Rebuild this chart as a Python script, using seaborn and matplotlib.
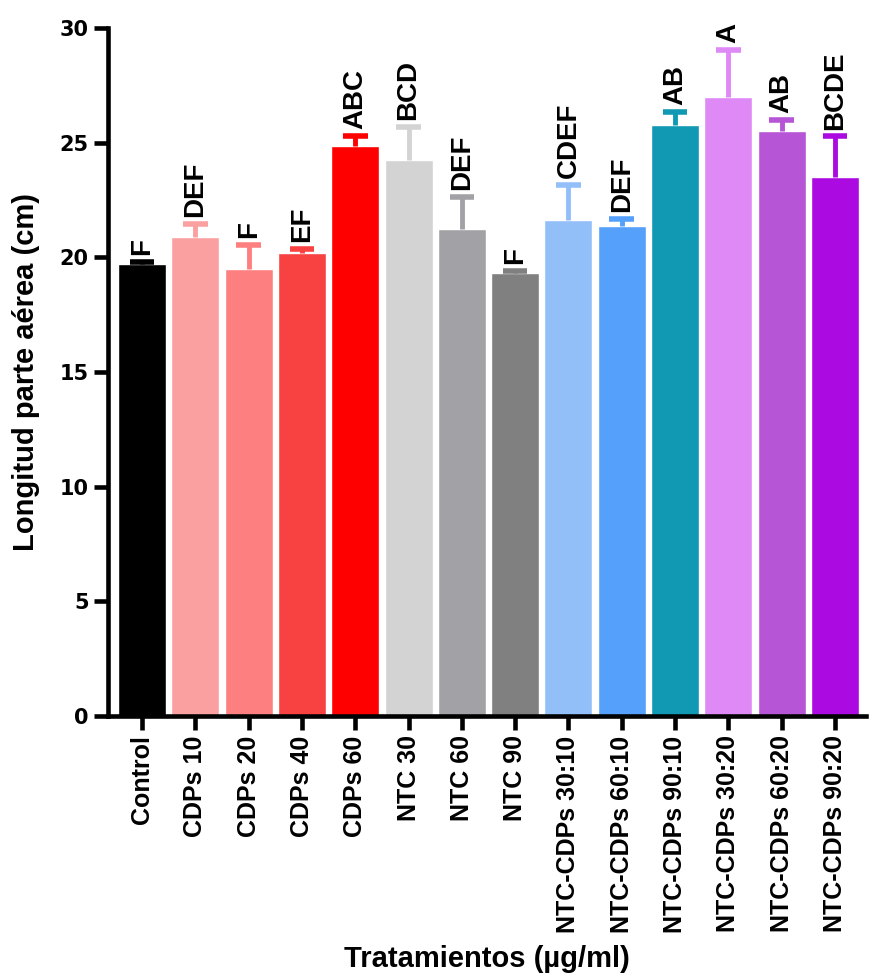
import matplotlib
matplotlib.use("Agg")
import matplotlib.pyplot as plt
import seaborn as sns
import pandas as pd

categories = ["Control", "CDPs 10", "CDPs 20", "CDPs 40", "CDPs 60", "NTC 30", "NTC 60", "NTC 90",
              "NTC-CDPs 30:10", "NTC-CDPs 60:10", "NTC-CDPs 90:10", "NTC-CDPs 30:20",
              "NTC-CDPs 60:20", "NTC-CDPs 90:20"]
means = [19.7, 20.9, 19.5, 20.2, 24.85, 24.25, 21.25, 19.3, 21.65, 21.35, 25.75, 27.0, 25.5, 23.5]
errors = [0.08, 0.55, 1.02, 0.15, 0.46, 1.45, 1.38, 0.12, 1.52, 0.34, 0.6, 2.03, 0.5, 1.77]
letters = ["F", "DEF", "F", "EF", "ABC", "BCD", "DEF", "F", "CDEF", "DEF", "AB", "A", "AB", "BCDE"]
colors = ["#000000", "#FBA0A0", "#FE7F7F", "#F84141", "#FF0000", "#D3D3D3", "#A2A1A5", "#808080",
          "#93BFF9", "#55A0FB", "#1199B3", "#DE89F6", "#B655D6", "#AB0AE0"]
yticks = [0, 5, 10, 15, 20, 25, 30]

sns.set_style("ticks")
plt.rcParams['font.family'] = ['Liberation Sans', 'DejaVu Sans']
plt.rcParams['text.color'] = 'black'
plt.rcParams['axes.labelcolor'] = 'black'
plt.rcParams['xtick.color'] = 'black'
plt.rcParams['ytick.color'] = 'black'
plt.rcParams['axes.edgecolor'] = 'black'

df = pd.DataFrame({"cat": categories, "val": means})

fig = plt.figure(figsize=(8.69, 9.73), dpi=100)
ax = fig.add_axes([0.1243, 0.2641, 0.872, 0.7071])

sns.barplot(data=df, x="cat", y="val", hue="cat", palette=colors, dodge=False,
            legend=False, width=0.9, saturation=1, ax=ax, errorbar=None, zorder=2)

cap_half = 0.23
for i, (m, e, c, lab) in enumerate(zip(means, errors, colors, letters)):
    top = m + e
    ax.vlines(i, m, top, colors=c, linewidth=3.5, zorder=3)
    ax.hlines(top, i - cap_half, i + cap_half, colors=c, linewidth=4, zorder=3, clip_on=False)
    ax.annotate(lab, xy=(i, top), xytext=(0, 5), textcoords="offset points",
                rotation=90, ha="center", va="bottom", fontsize=20, fontweight="bold",
                color="black")

ax.set_xlim(-0.64, 13.58)
ax.set_ylim(0, 30)
ax.set_yticks(yticks)
ax.set_yticklabels([str(t) for t in yticks], fontsize=15, fontweight="bold",
                   family="DejaVu Sans")
ax.set_xticks(range(len(categories)))
ax.set_xticklabels(categories, rotation=90, fontsize=18, fontweight="bold")

ax.set_ylabel("Longitud parte aérea (cm)", fontsize=21, fontweight="bold", labelpad=14)
ax.set_xlabel("Tratamientos (µg/ml)", fontsize=21, fontweight="bold", labelpad=9)

for s in ["top", "right"]:
    ax.spines[s].set_visible(False)
for s in ["left", "bottom"]:
    ax.spines[s].set_linewidth(3.3)
    ax.spines[s].set_color("black")
ax.tick_params(axis="both", width=3.3, length=10, color="black", labelcolor="black", pad=4)

fig.savefig("out.png", dpi=100)
